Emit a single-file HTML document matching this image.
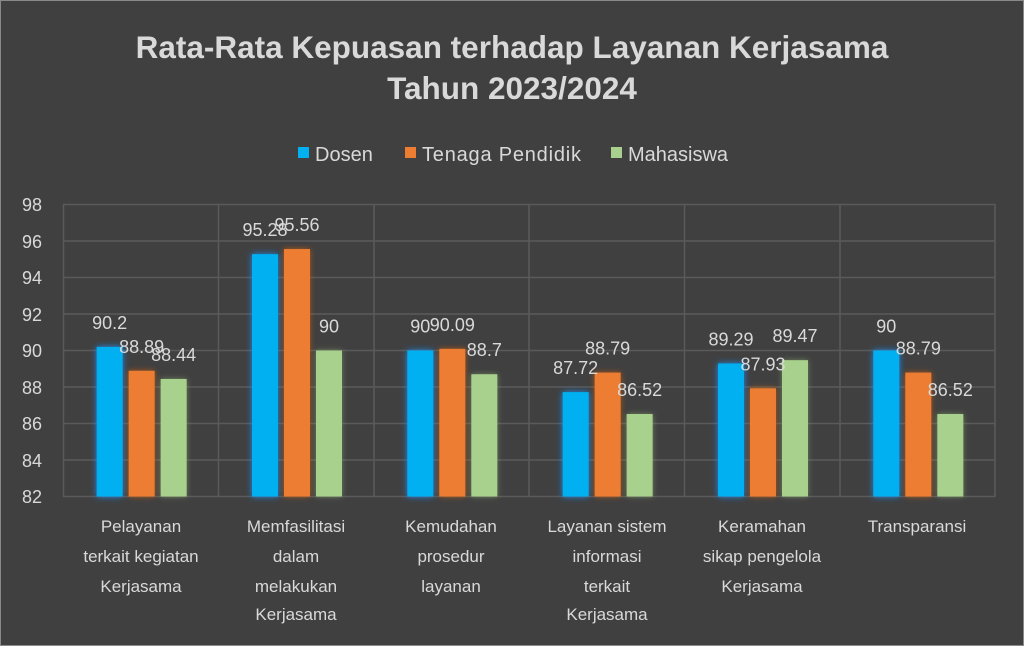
<!DOCTYPE html><html><head><style>
body{margin:0;background:#404040;}
svg{display:block;font-family:"Liberation Sans","DejaVu Sans",sans-serif;}
</style></head><body>
<svg width="1024" height="646" viewBox="0 0 1024 646">
<defs>
<filter id="go" x="-50%" y="-20%" width="200%" height="140%"><feGaussianBlur in="SourceAlpha" stdDeviation="3" result="b"/><feFlood flood-color="#e06010" flood-opacity="0.7"/><feComposite operator="in" in2="b"/><feMerge><feMergeNode/><feMergeNode in="SourceGraphic"/></feMerge></filter>
<filter id="gg" x="-50%" y="-20%" width="200%" height="140%"><feGaussianBlur in="SourceAlpha" stdDeviation="3" result="b"/><feFlood flood-color="#8fb070" flood-opacity="0.6"/><feComposite operator="in" in2="b"/><feMerge><feMergeNode/><feMergeNode in="SourceGraphic"/></feMerge></filter>
<filter id="gb2" x="-50%" y="-20%" width="200%" height="140%"><feGaussianBlur in="SourceAlpha" stdDeviation="3.5" result="b"/><feFlood flood-color="#1a8fff" flood-opacity="0.9"/><feComposite operator="in" in2="b"/><feMerge><feMergeNode/><feMergeNode in="SourceGraphic"/></feMerge></filter>
</defs>
<rect x="0.5" y="0.5" width="1023" height="645" fill="#404040" stroke="#8a8a8a"/>
<text x="512" y="58" text-anchor="middle" font-size="31.5" font-weight="bold" fill="#d9d9d9">Rata-Rata Kepuasan terhadap Layanan Kerjasama</text>
<text x="512" y="99" text-anchor="middle" font-size="31.5" font-weight="bold" fill="#d9d9d9">Tahun 2023/2024</text>
<g font-size="20" fill="#d9d9d9">
<rect x="298" y="147" width="11" height="11" fill="#00b0f0"/><text x="315" y="161">Dosen</text>
<rect x="405" y="147" width="11" height="11" fill="#ed7d31"/><text x="422" y="161" textLength="159">Tenaga Pendidik</text>
<rect x="611" y="147" width="11" height="11" fill="#a9d18e"/><text x="628" y="161">Mahasiswa</text>
</g>
<g stroke="#5a5a5a" stroke-width="1.5" fill="none">
<path d="M63 204.5H995M63 241H995M63 277.5H995M63 314H995M63 350.5H995M63 387H995M63 423.5H995M63 460H995M63 496.5H995"/>
<path d="M63.5 204V497M218.5 204V497M374 204V497M529 204V497M684.5 204V497M840 204V497M995 204V497"/>
</g>
<g font-size="18" fill="#d9d9d9" text-anchor="end">
<text x="42" y="211">98</text><text x="42" y="248">96</text><text x="42" y="284">94</text><text x="42" y="321">92</text><text x="42" y="357">90</text><text x="42" y="394">88</text><text x="42" y="430">86</text><text x="42" y="467">84</text><text x="42" y="503">82</text>
</g>
<g id="bars"></g>
<g font-size="17" fill="#d9d9d9" text-anchor="middle" id="cats">
<text x="141" y="532">Pelayanan</text><text x="141" y="562">terkait kegiatan</text><text x="141" y="592">Kerjasama</text>
<text x="296" y="532">Memfasilitasi</text><text x="296" y="562">dalam</text><text x="296" y="592">melakukan</text><text x="296" y="620">Kerjasama</text>
<text x="451" y="532">Kemudahan</text><text x="451" y="562">prosedur</text><text x="451" y="592">layanan</text>
<text x="607" y="532">Layanan sistem</text><text x="607" y="562">informasi</text><text x="607" y="592">terkait</text><text x="607" y="620">Kerjasama</text>
<text x="762" y="532">Keramahan</text><text x="762" y="562">sikap pengelola</text><text x="762" y="592">Kerjasama</text>
<text x="917" y="532">Transparansi</text>
</g>
<g id="vals" font-size="18" fill="#d9d9d9" text-anchor="middle"></g>
</svg>
<script>
var d=[[90.2,88.89,88.44],[95.28,95.56,90],[90,90.09,88.7],[87.72,88.79,86.52],[89.29,87.93,89.47],[90,88.79,86.52]];
var cols=["#00b0f0","#ed7d31","#a9d18e"],fl=["gb2","go","gg"];
var b=document.getElementById("bars"),v=document.getElementById("vals"),ns="http://www.w3.org/2000/svg";
d.forEach(function(g,i){var c=63+155.33*(i+0.5);g.forEach(function(val,j){var cx=c-31+32*j,top=496.5-(val-82)*18.25;
var r=document.createElementNS(ns,"rect");r.setAttribute("x",cx-13);r.setAttribute("y",top);r.setAttribute("width",26);r.setAttribute("height",496.5-top);r.setAttribute("fill",cols[j]);r.setAttribute("filter","url(#"+fl[j]+")");b.appendChild(r);
var t=document.createElementNS(ns,"text");t.setAttribute("x",cx);t.setAttribute("y",top-18);t.textContent=String(val);v.appendChild(t);});});
</script>
</body></html>
